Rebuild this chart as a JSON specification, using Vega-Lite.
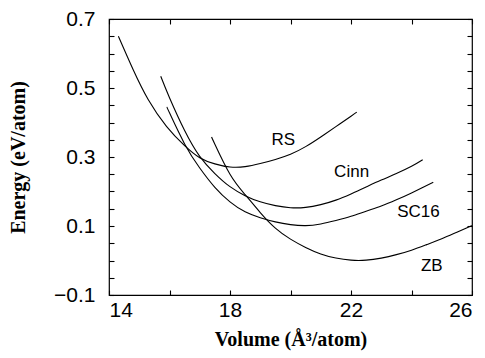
{
  "$schema": "https://vega.github.io/schema/vega-lite/v6.json",
  "width": 363,
  "height": 276,
  "autosize": {"type": "none"},
  "padding": {"left": 109, "top": 19, "right": 13, "bottom": 63},
  "background": "white",
  "config": {
    "view": {"stroke": "black", "strokeWidth": 1.2},
    "axis": {
      "grid": false,
      "domain": false,
      "offset": -5,
      "tickColor": "black",
      "tickSize": 5,
      "tickWidth": 1.1,
      "labelFont": "Liberation Sans",
      "labelFontSize": 21,
      "labelColor": "black",
      "titleFont": "Liberation Serif",
      "titleFontWeight": "bold",
      "titleFontSize": 20,
      "titleColor": "black"
    }
  },
  "datasets": {
    "curves": [
      {"series": "RS", "v": 14.31, "e": 0.650},
      {"series": "RS", "v": 14.8, "e": 0.553},
      {"series": "RS", "v": 15.3, "e": 0.466},
      {"series": "RS", "v": 15.9, "e": 0.389},
      {"series": "RS", "v": 16.5, "e": 0.333},
      {"series": "RS", "v": 17.0, "e": 0.298},
      {"series": "RS", "v": 17.5, "e": 0.280},
      {"series": "RS", "v": 18.0, "e": 0.271},
      {"series": "RS", "v": 18.5, "e": 0.272},
      {"series": "RS", "v": 19.0, "e": 0.281},
      {"series": "RS", "v": 19.5, "e": 0.293},
      {"series": "RS", "v": 20.0, "e": 0.308},
      {"series": "RS", "v": 20.5, "e": 0.330},
      {"series": "RS", "v": 21.0, "e": 0.358},
      {"series": "RS", "v": 21.5, "e": 0.388},
      {"series": "RS", "v": 22.0, "e": 0.418},
      {"series": "RS", "v": 22.19, "e": 0.430},
      {"series": "Cinn", "v": 15.71, "e": 0.534},
      {"series": "Cinn", "v": 16.0, "e": 0.472},
      {"series": "Cinn", "v": 16.5, "e": 0.377},
      {"series": "Cinn", "v": 17.0, "e": 0.302},
      {"series": "Cinn", "v": 17.5, "e": 0.252},
      {"series": "Cinn", "v": 18.0, "e": 0.214},
      {"series": "Cinn", "v": 18.5, "e": 0.188},
      {"series": "Cinn", "v": 19.0, "e": 0.170},
      {"series": "Cinn", "v": 19.5, "e": 0.159},
      {"series": "Cinn", "v": 20.0, "e": 0.153},
      {"series": "Cinn", "v": 20.5, "e": 0.154},
      {"series": "Cinn", "v": 21.0, "e": 0.162},
      {"series": "Cinn", "v": 21.5, "e": 0.175},
      {"series": "Cinn", "v": 22.0, "e": 0.193},
      {"series": "Cinn", "v": 22.5, "e": 0.213},
      {"series": "Cinn", "v": 23.0, "e": 0.233},
      {"series": "Cinn", "v": 23.5, "e": 0.252},
      {"series": "Cinn", "v": 24.0, "e": 0.273},
      {"series": "Cinn", "v": 24.37, "e": 0.292},
      {"series": "SC16", "v": 15.93, "e": 0.442},
      {"series": "SC16", "v": 16.0, "e": 0.428},
      {"series": "SC16", "v": 16.5, "e": 0.338},
      {"series": "SC16", "v": 17.0, "e": 0.268},
      {"series": "SC16", "v": 17.5, "e": 0.212},
      {"series": "SC16", "v": 18.0, "e": 0.170},
      {"series": "SC16", "v": 18.5, "e": 0.141},
      {"series": "SC16", "v": 19.0, "e": 0.124},
      {"series": "SC16", "v": 19.5, "e": 0.112},
      {"series": "SC16", "v": 20.0, "e": 0.104},
      {"series": "SC16", "v": 20.5, "e": 0.101},
      {"series": "SC16", "v": 21.0, "e": 0.106},
      {"series": "SC16", "v": 21.5, "e": 0.116},
      {"series": "SC16", "v": 22.0, "e": 0.128},
      {"series": "SC16", "v": 22.5, "e": 0.143},
      {"series": "SC16", "v": 23.0, "e": 0.158},
      {"series": "SC16", "v": 23.5, "e": 0.176},
      {"series": "SC16", "v": 24.0, "e": 0.196},
      {"series": "SC16", "v": 24.72, "e": 0.227},
      {"series": "ZB", "v": 17.39, "e": 0.358},
      {"series": "ZB", "v": 17.5, "e": 0.337},
      {"series": "ZB", "v": 18.0, "e": 0.250},
      {"series": "ZB", "v": 18.5, "e": 0.191},
      {"series": "ZB", "v": 19.0, "e": 0.139},
      {"series": "ZB", "v": 19.5, "e": 0.094},
      {"series": "ZB", "v": 20.0, "e": 0.062},
      {"series": "ZB", "v": 20.5, "e": 0.038},
      {"series": "ZB", "v": 21.0, "e": 0.019},
      {"series": "ZB", "v": 21.5, "e": 0.007},
      {"series": "ZB", "v": 22.0, "e": 0.001},
      {"series": "ZB", "v": 22.5, "e": 0.001},
      {"series": "ZB", "v": 23.0, "e": 0.007},
      {"series": "ZB", "v": 23.5, "e": 0.017},
      {"series": "ZB", "v": 24.0, "e": 0.030},
      {"series": "ZB", "v": 24.5, "e": 0.046},
      {"series": "ZB", "v": 25.0, "e": 0.063},
      {"series": "ZB", "v": 25.5, "e": 0.082},
      {"series": "ZB", "v": 26.0, "e": 0.101}
    ],
    "labels": [
      {"name": "RS", "v": 19.76, "e": 0.35},
      {"name": "Cinn", "v": 22.02, "e": 0.256},
      {"name": "SC16", "v": 24.23, "e": 0.14},
      {"name": "ZB", "v": 24.67, "e": -0.017}
    ]
  },
  "layer": [
    {
      "data": {"name": "curves"},
      "mark": {"type": "line", "color": "black", "strokeWidth": 1.1, "interpolate": "natural"},
      "encoding": {
        "x": {
          "field": "v", "type": "quantitative",
          "scale": {"domain": [14, 26], "nice": false, "zero": false},
          "axis": {
            "orient": "bottom",
            "values": [14, 16, 18, 20, 22, 24, 26],
            "labelExpr": "datum.value % 4 == 2 ? datum.label : ''",
            "labelPadding": 4,
            "titlePadding": 9,
            "title": "Volume (Å³/atom)"
          }
        },
        "y": {
          "field": "e", "type": "quantitative",
          "scale": {"domain": [-0.1, 0.7], "nice": false, "zero": false},
          "axis": {
            "orient": "left",
            "values": [-0.1, -0.05, 0, 0.05, 0.1, 0.15, 0.2, 0.25, 0.3, 0.35, 0.4, 0.45, 0.5, 0.55, 0.6, 0.65, 0.7],
            "format": ".1f",
            "labelExpr": "abs(round(datum.value * 20)) % 4 == 2 ? datum.label : ''",
            "labelPadding": 14,
            "titlePadding": 25,
            "title": "Energy (eV/atom)"
          }
        },
        "detail": {"field": "series"}
      }
    },
    {
      "data": {"name": "labels"},
      "mark": {"type": "text", "font": "Liberation Sans", "fontSize": 17, "color": "black"},
      "encoding": {
        "x": {
          "field": "v", "type": "quantitative",
          "axis": {"orient": "top", "values": [14, 16, 18, 20, 22, 24, 26], "labels": false, "title": null}
        },
        "y": {
          "field": "e", "type": "quantitative",
          "axis": {
            "orient": "right",
            "values": [-0.1, -0.05, 0, 0.05, 0.1, 0.15, 0.2, 0.25, 0.3, 0.35, 0.4, 0.45, 0.5, 0.55, 0.6, 0.65, 0.7],
            "labels": false, "title": null
          }
        },
        "text": {"field": "name"}
      }
    }
  ],
  "resolve": {"axis": {"x": "independent", "y": "independent"}}
}
